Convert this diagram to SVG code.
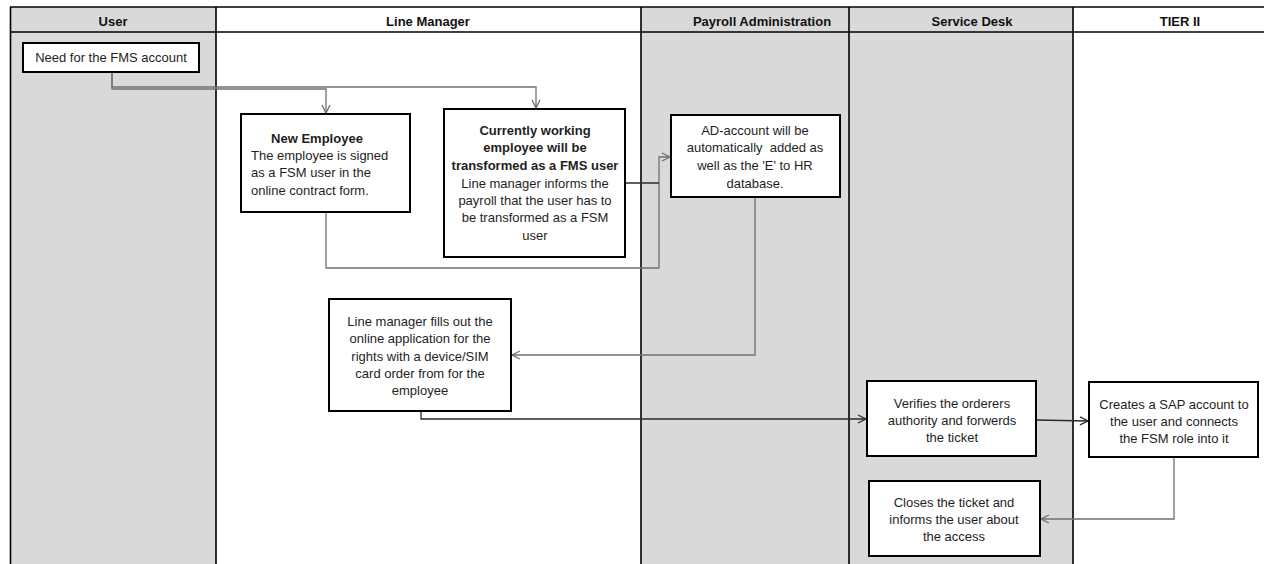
<svg xmlns="http://www.w3.org/2000/svg" width="1264" height="564" viewBox="0 0 1264 564">
  <style>
    .lane-gray { fill: #d9d9d9; }
    .lane-white { fill: #ffffff; }
    .divider { stroke: #000; stroke-width: 1.6; fill: none; }
    .hdr { font-family: "Liberation Sans", Arial, sans-serif; font-size: 13px; font-weight: bold; fill: #111; text-anchor: middle; }
    .box { fill: #fff; stroke: #000; stroke-width: 2; }
    .txt { font-family: "Liberation Sans", Arial, sans-serif; font-size: 13px; fill: #1e1e1e; text-anchor: middle; }
    .txt-l { font-family: "Liberation Sans", Arial, sans-serif; font-size: 13px; fill: #1e1e1e; }
    .bold { font-weight: bold; }
    .conn { fill: none; stroke-width: 1.3; }
    .c-gray { stroke: #707070; }
    .c-dark { stroke: #2a2a2a; }
  </style>
  <defs>
    <marker id="arrowGray" markerUnits="userSpaceOnUse" markerWidth="12" markerHeight="12" refX="9" refY="5" orient="auto">
      <path d="M1,1 L9,5 L1,9" fill="none" stroke="#707070" stroke-width="1.3"/>
    </marker>
    <marker id="arrowDark" markerUnits="userSpaceOnUse" markerWidth="12" markerHeight="12" refX="9" refY="5" orient="auto">
      <path d="M1,1 L9,5 L1,9" fill="none" stroke="#2a2a2a" stroke-width="1.3"/>
    </marker>
  </defs>

  <rect x="0" y="0" width="1264" height="564" fill="#fff"/>

  <!-- swimlanes -->
  <g id="lanes">
    <rect class="lane-gray" x="10" y="7" width="206" height="557"/>
    <rect class="lane-white" x="216" y="7" width="425" height="557"/>
    <rect class="lane-gray" x="641" y="7" width="208" height="557"/>
    <rect class="lane-gray" x="849" y="7" width="224" height="557"/>
    <rect class="lane-white" x="1073" y="7" width="191" height="557"/>
    <line class="divider" x1="10" y1="7" x2="1264" y2="7"/>
    <line class="divider" x1="10" y1="32" x2="1264" y2="32"/>
    <line class="divider" x1="10.5" y1="7" x2="10.5" y2="564"/>
    <line class="divider" x1="216" y1="7" x2="216" y2="564"/>
    <line class="divider" x1="641" y1="7" x2="641" y2="564"/>
    <line class="divider" x1="849" y1="7" x2="849" y2="564"/>
    <line class="divider" x1="1073" y1="7" x2="1073" y2="564"/>
    <text class="hdr" x="113" y="26">User</text>
    <text class="hdr" x="428" y="26">Line Manager</text>
    <text class="hdr" x="762" y="26">Payroll Administration</text>
    <text class="hdr" x="972" y="26">Service Desk</text>
    <text class="hdr" x="1180" y="26">TIER II</text>
  </g>

  <!-- connectors -->
  <g id="connectors">
    <polyline class="conn c-gray" points="112,72 112,87 536,87 536,108" marker-end="url(#arrowGray)"/>
    <polyline class="conn c-gray" stroke-width="1.8" points="112,72 112,89 326,89 326,113" marker-end="url(#arrowGray)"/>
    <polyline class="conn c-gray" points="326,212 326,268 659,268 659,157 670,157" marker-end="url(#arrowGray)"/>
    <polyline class="conn c-dark" points="625,183 659,183"/>
    <polyline class="conn c-gray" points="755,197 755,355 512,355" marker-end="url(#arrowGray)"/>
    <polyline class="conn c-dark" points="421,411 421,419 866,419" marker-end="url(#arrowDark)"/>
    <polyline class="conn c-dark" points="1036,420 1088,421" marker-end="url(#arrowDark)"/>
    <polyline class="conn c-gray" points="1174,457 1174,519 1041,519" marker-end="url(#arrowGray)"/>
  </g>

  <g id="need-account">
    <rect class="box" x="23" y="43" width="176" height="29"/>
    <text class="txt" x="111" y="62">Need for the FMS account</text>
  </g>

  <g id="new-employee">
    <rect class="box" x="241" y="114" width="169" height="98"/>
    <text class="txt bold" x="317" y="143">New Employee</text>
    <text class="txt-l" x="251" y="160">The employee is signed</text>
    <text class="txt-l" x="251" y="177">as a FSM user in the</text>
    <text class="txt-l" x="251" y="195">online contract form.</text>
  </g>

  <g id="current-employee">
    <rect class="box" x="444" y="109" width="181" height="148"/>
    <text class="txt bold" x="535" y="135">Currently working</text>
    <text class="txt bold" x="535" y="152">employee will be</text>
    <text class="txt bold" x="535" y="170">transformed as a FMS user</text>
    <text class="txt" x="535" y="188">Line manager informs the</text>
    <text class="txt" x="535" y="205">payroll that the user has to</text>
    <text class="txt" x="535" y="222">be transformed as a FSM</text>
    <text class="txt" x="535" y="240">user</text>
  </g>

  <g id="ad-account">
    <rect class="box" x="671" y="115" width="169" height="82"/>
    <text class="txt" x="755" y="135">AD-account will be</text>
    <text class="txt" x="755" y="152" xml:space="preserve">automatically  added as</text>
    <text class="txt" x="755" y="170">well as the 'E' to HR</text>
    <text class="txt" x="755" y="188">database.</text>
  </g>

  <g id="application">
    <rect class="box" x="329" y="299" width="182" height="112"/>
    <text class="txt" x="420" y="326">Line manager fills out the</text>
    <text class="txt" x="420" y="343">online application for the</text>
    <text class="txt" x="420" y="361">rights with a device/SIM</text>
    <text class="txt" x="420" y="378">card order from for the</text>
    <text class="txt" x="420" y="395">employee</text>
  </g>

  <g id="verify">
    <rect class="box" x="867" y="381" width="169" height="75"/>
    <text class="txt" x="952" y="408">Verifies the orderers</text>
    <text class="txt" x="952" y="425">authority and forwerds</text>
    <text class="txt" x="952" y="442">the ticket</text>
  </g>

  <g id="sap-account">
    <rect class="box" x="1089" y="382" width="169" height="75"/>
    <text class="txt" x="1174" y="409">Creates a SAP account to</text>
    <text class="txt" x="1174" y="426">the user and connects</text>
    <text class="txt" x="1174" y="443">the FSM role into it</text>
  </g>

  <g id="close-ticket">
    <rect class="box" x="869" y="481" width="171" height="75"/>
    <text class="txt" x="954" y="507">Closes the ticket and</text>
    <text class="txt" x="954" y="524">informs the user about</text>
    <text class="txt" x="954" y="541">the access</text>
  </g>
</svg>
